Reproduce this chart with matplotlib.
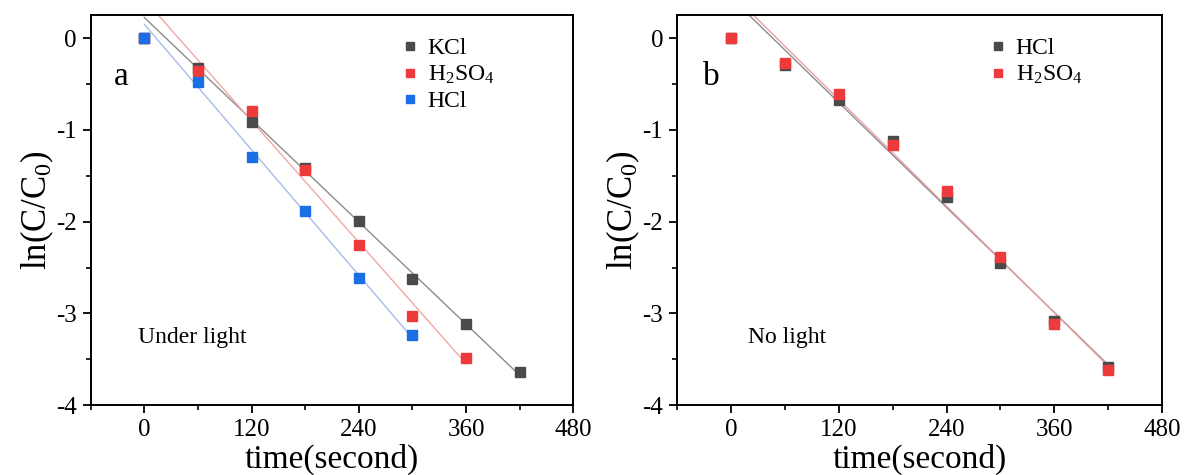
import numpy as np
import matplotlib.pyplot as plt
from matplotlib.ticker import MultipleLocator

plt.rcParams['font.family'] = ['Liberation Serif', 'DejaVu Serif']
plt.rcParams['mathtext.fontset'] = 'custom'
plt.rcParams['mathtext.rm'] = 'Liberation Serif'
plt.rcParams['mathtext.it'] = 'Liberation Serif'
plt.rcParams['axes.unicode_minus'] = False

# time points (s)
t = [0, 60, 120, 180, 240, 300, 360, 420]

# panel a: under light
kcl_a = [0, -0.32, -0.91, -1.41, -1.99, -2.63, -3.12, -3.64]
h2so4_a = [0, -0.36, -0.79, -1.44, -2.25, -3.03, -3.49]
hcl_a = [0, -0.48, -1.29, -1.88, -2.61, -3.24]

# panel b: no light
hcl_b = [0, -0.29, -0.67, -1.12, -1.73, -2.45, -3.08, -3.58]
h2so4_b = [0, -0.27, -0.61, -1.16, -1.67, -2.38, -3.11, -3.62]

c_grey, c_red, c_blue = '#4a4a4a', '#ee3a3a', '#1a6ee6'
l_grey, l_red, l_blue = '#8c8c8c', '#f0a8a8', '#a8bce8'

fig = plt.figure(figsize=(11.92, 4.75), dpi=100)
ax_a = fig.add_axes([0.076, 0.147, 0.405, 0.821])
ax_b = fig.add_axes([0.568, 0.147, 0.407, 0.821])


def fit_line(ax, y, color):
    x = np.array(t[:len(y)])
    k, b = np.polyfit(x[1:], np.array(y)[1:], 1)
    xx = np.array([0, x[-1]])
    ax.plot(xx, k * xx + b, color=color, lw=1.0, zorder=2)


def series(ax, y, color, label):
    ax.plot(t[:len(y)], y, 's', color=color, ms=7, mec=color, label=label,
            zorder=3, ls='none')


fit_line(ax_a, kcl_a, l_grey)
fit_line(ax_a, h2so4_a, l_red)
fit_line(ax_a, hcl_a, l_blue)
series(ax_a, kcl_a, c_grey, 'KCl')
series(ax_a, h2so4_a, c_red, 'H$_2$SO$_4$')
series(ax_a, hcl_a, c_blue, 'HCl')

fit_line(ax_b, hcl_b, l_grey)
fit_line(ax_b, h2so4_b, '#e8a0a0')
series(ax_b, hcl_b, c_grey, 'HCl')
series(ax_b, h2so4_b, c_red, 'H$_2$SO$_4$')

panels = [(ax_a, 'a', 0.048, 'Under light', 0.098),
          (ax_b, 'b', 0.054, 'No light', 0.146)]
for ax, tag, tx, note, nx in panels:
    ax.set_xlim(-60, 480)
    ax.set_ylim(-4, 0.25)
    ax.xaxis.set_major_locator(MultipleLocator(120))
    ax.xaxis.set_minor_locator(MultipleLocator(60))
    ax.yaxis.set_major_locator(MultipleLocator(1))
    ax.yaxis.set_minor_locator(MultipleLocator(0.5))
    ax.tick_params(which='major', direction='out', length=6, width=1.3,
                   labelsize=18, top=False, right=False, pad=4)
    ax.tick_params(which='minor', direction='out', length=3.5, width=1.2,
                   top=False, right=False)
    for s in ax.spines.values():
        s.set_linewidth(1.4)
    ax.set_xlabel('time(second)', fontsize=24, labelpad=2)
    ax.set_ylabel('ln(C/C$_0$)', fontsize=25, labelpad=0)
    ax.text(tx, 0.82, tag, transform=ax.transAxes, fontsize=24)
    ax.text(nx, 0.16, note, transform=ax.transAxes, fontsize=17)
    ax.legend(loc='upper left', bbox_to_anchor=(0.615, 0.985), frameon=False,
              fontsize=17, handlelength=0.5, handletextpad=0.5,
              labelspacing=0.2, markerscale=0.75, borderpad=0.2)

fig.savefig('out.png', dpi=100)
